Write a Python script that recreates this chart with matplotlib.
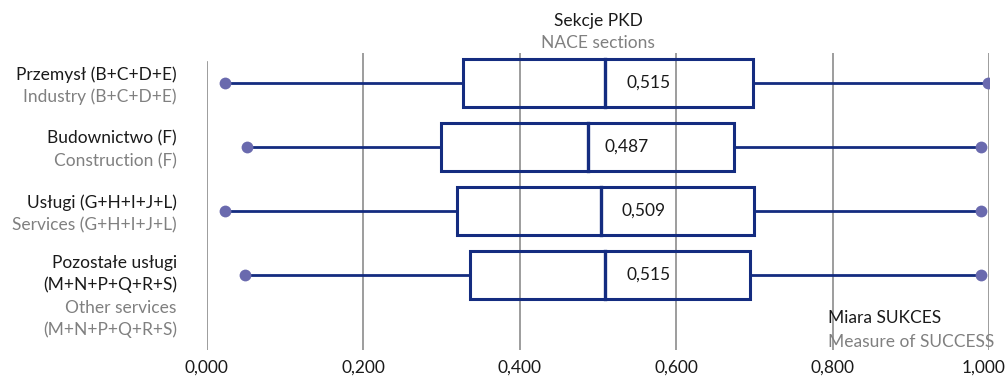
import matplotlib.pyplot as plt
from matplotlib.patches import Rectangle
from matplotlib.transforms import ScaledTranslation

plt.rcParams['font.family'] = ['Lato', 'DejaVu Sans']

# data
labels_pl = [["Przemysł (B+C+D+E)"], ["Budownictwo (F)"], ["Usługi (G+H+I+J+L)"],
             ["Pozostałe usługi", "(M+N+P+Q+R+S)"]]
labels_en = [["Industry (B+C+D+E)"], ["Construction (F)"], ["Services (G+H+I+J+L)"],
             ["Other services", "(M+N+P+Q+R+S)"]]
mins = [0.023, 0.052, 0.023, 0.049]
q1 = [0.327, 0.299, 0.320, 0.337]
medians = [0.509, 0.488, 0.504, 0.509]
q3 = [0.698, 0.674, 0.699, 0.694]
maxs = [0.999, 0.990, 0.990, 0.990]
median_labels = ["0,515", "0,487", "0,509", "0,515"]
xticks = [0.0, 0.2, 0.4, 0.6, 0.8, 1.0]

NAVY = "#142c80"
DOT = "#6a6aae"
GREY = "#808080"
GRID = "#8c8c8c"
BLACK = "#1a1a1a"
FS = 12.5
W, H = 1006, 376

fig = plt.figure(figsize=(W / 100, H / 100), dpi=100)
ax = fig.add_axes([206.7 / W, 1 - 350 / H, 782.3 / W, 297 / H])
ax.set_xlim(0, 1)
ax.set_ylim(4.174, -0.474)

for t in xticks:
    top = 0.97 if t == 0 else 1.0
    ax.axvline(t, ymin=0, ymax=top, color=GRID, lw=1.2, zorder=0)

for i in range(len(medians)):
    ax.plot([mins[i], q1[i]], [i, i], color=NAVY, lw=2, zorder=2)
    ax.plot([q3[i], maxs[i]], [i, i], color=NAVY, lw=2, zorder=2)
    ax.plot([mins[i], maxs[i]], [i, i], 'o', color=DOT, ms=8.5, mec='none', zorder=3)
    ax.add_patch(Rectangle((q1[i], i - 0.375), q3[i] - q1[i], 0.75,
                           fill=False, ec=NAVY, lw=2.2, zorder=2))
    ax.plot([medians[i], medians[i]], [i - 0.375, i + 0.375], color=NAVY, lw=2.4, zorder=2)
    # value label sits just right of the labelled median value
    val = float(median_labels[i].replace(",", "."))
    ax.annotate(median_labels[i], xy=(val, i), xytext=(12, -4.5 * 0.72),
                textcoords='offset points', va='baseline', fontsize=FS, color=BLACK)

    # category labels, one text per line (offsets in pixels below row centre)
    lines = [(s, BLACK) for s in labels_pl[i]] + [(s, GREY) for s in labels_en[i]]
    start = -3.5 if len(lines) == 2 else -7
    for k, (s, c) in enumerate(lines):
        off = start + 22.5 * k
        ax.annotate(s, xy=(0, i), xycoords=('axes fraction', 'data'),
                    xytext=(-21.5, -off * 0.72), textcoords='offset points',
                    ha='right', va='baseline', fontsize=FS, color=c)

ax.set_xticks(xticks)
ax.set_xticklabels([f"{t:.3f}".replace(".", ",") for t in xticks], fontsize=FS,
                   color=BLACK)
ax.tick_params(axis='x', length=0, pad=7)
last = ax.get_xticklabels()[-1]
last.set_horizontalalignment('right')
last.set_transform(last.get_transform() + ScaledTranslation(0.165, 0, fig.dpi_scale_trans))
ax.set_yticks([])
for s in ax.spines.values():
    s.set_visible(False)

fig.text(598 / W, 1 - 26 / H, "Sekcje PKD", ha='center', va='baseline',
         fontsize=FS, color=BLACK)
fig.text(598 / W, 1 - 48 / H, "NACE sections", ha='center', va='baseline',
         fontsize=FS, color=GREY)
fig.text(828 / W, 1 - 323 / H, "Miara SUKCES", ha='left', va='baseline',
         fontsize=FS, color=BLACK)
fig.text(828 / W, 1 - 347 / H, "Measure of SUCCESS", ha='left', va='baseline',
         fontsize=FS, color=GREY)

fig.savefig("out.png", dpi=100)
